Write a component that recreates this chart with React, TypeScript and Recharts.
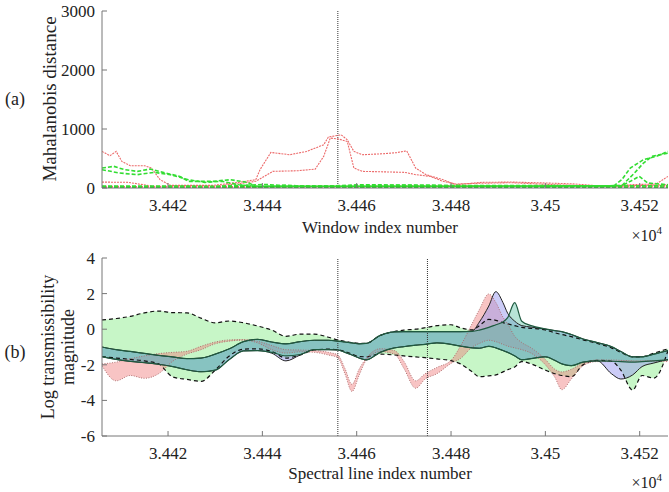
import React from 'react';
import { ComposedChart, Line, Area, XAxis, YAxis, ReferenceLine } from 'recharts';

// panel (a): Mahalanobis distance per window, [window index, distance]
const redA: [number, number][] = [[34406, 620], [34407.7, 547], [34409, 620], [34410.2, 451], [34412, 378], [34415, 378], [34416.5, 338], [34418.3, 141], [34420.5, 45], [34429.6, 45], [34435, 96], [34438.6, 141], [34439.5, 310], [34441.8, 603], [34445.8, 564], [34449.4, 620], [34453, 733], [34454, 863], [34456.7, 902], [34458, 818], [34459.4, 620], [34461.2, 564], [34465.7, 581], [34468.5, 600], [34470.6, 630], [34472.5, 338], [34474.7, 226], [34478.3, 141], [34481, 56], [34486.5, 96], [34492.8, 101], [34500, 85], [34506.3, 68], [34512.6, 28], [34518, 56], [34523.5, 68], [34526, 197]];
const redB: [number, number][] = [[34406, 100], [34411.5, 96], [34417, 28], [34429.6, 28], [34435, 73], [34438.6, 113], [34440.4, 197], [34442.2, 282], [34447.6, 293], [34451.2, 320], [34453, 536], [34454.4, 846], [34456.2, 829], [34458, 790], [34459.4, 338], [34461.2, 282], [34470.2, 265], [34472.5, 226], [34475.6, 197], [34478.3, 113], [34481, 68], [34486.5, 80], [34492.8, 90], [34501.8, 56], [34512.6, 28], [34526, 56]];
const redC: [number, number][] = [[34406, 30], [34420, 20], [34440, 25], [34460, 30], [34480, 40], [34500, 30], [34526, 40]];
const redD: [number, number][] = [[34406, 15], [34430, 10], [34460, 15], [34490, 20], [34526, 20]];
const greenA: [number, number][] = [[34406, 338], [34408.5, 367], [34410.8, 310], [34413.5, 282], [34416.2, 321], [34418.9, 265], [34422.5, 197], [34424.3, 113], [34429.6, 113], [34433.2, 141], [34436.8, 96], [34438.6, 28], [34460, 25], [34490, 25], [34514.4, 28], [34516.2, 141], [34518, 338], [34520.8, 480], [34523.5, 536], [34526, 620]];
const greenB: [number, number][] = [[34406, 310], [34409.7, 254], [34413.5, 226], [34417, 265], [34420.5, 226], [34424.3, 141], [34427.8, 96], [34431.4, 113], [34435, 56], [34438.6, 28], [34480, 30], [34516.2, 40], [34518.9, 254], [34520.8, 423], [34522.6, 536], [34526, 592]];
const greenC: [number, number][] = [[34406, 20], [34440, 20], [34445, 50], [34450, 20], [34456, 30], [34460, 55], [34470, 50], [34480, 40], [34500, 35], [34516, 30], [34518, 113], [34519.9, 197], [34521.7, 85], [34526, 56]];
const greenD: [number, number][] = [[34406, 8], [34440, 10], [34460, 12], [34490, 10], [34526, 8]];
const greenE: [number, number][] = [[34406, 35], [34430, 30], [34441, 60], [34445, 35], [34470, 45], [34500, 40], [34526, 35]];

// panel (b): log transmissibility bands (min / max) per spectral line
const bx = [34406, 34409, 34412, 34415, 34418, 34421, 34424, 34427, 34430, 34433, 34436, 34439, 34442, 34445, 34448, 34451, 34454, 34456, 34457.5, 34459, 34460.5, 34462, 34465, 34468, 34470, 34472.5, 34474.5, 34477, 34480, 34482, 34484.5, 34486, 34488, 34489.5, 34491, 34492, 34493.5, 34495, 34497, 34500, 34502, 34503.5, 34505.5, 34508, 34511, 34514, 34516, 34518.5, 34520.5, 34523, 34526];
const greenHi = [0.52, 0.6, 0.72, 0.92, 1.02, 0.93, 0.92, 0.62, 0.36, 0.46, 0.36, 0.18, -0.05, -0.4, -0.28, -0.28, -0.45, -0.61, -0.68, -0.75, -0.79, -0.79, -0.35, -0.13, -0.05, 0.0, 0.08, 0.2, 0.25, 0.08, -0.04, 0.2, 0.55, 0.5, 0.37, 0.3, 0.2, 0.1, 0.05, -0.04, -0.2, -0.3, -0.42, -0.6, -0.8, -1.05, -1.3, -1.55, -1.55, -1.35, -1.1];
const greenLo = [-1.54, -1.62, -1.7, -1.78, -1.95, -2.68, -2.82, -2.93, -2.3, -1.5, -1.12, -1.1, -1.25, -1.62, -1.45, -1.17, -1.12, -1.15, -1.25, -1.4, -1.54, -1.55, -1.4, -1.45, -1.5, -1.56, -1.6, -1.67, -1.77, -1.95, -2.4, -2.67, -2.62, -2.57, -2.4, -2.28, -2.12, -1.82, -1.95, -2.3, -2.5, -2.6, -2.67, -2.0, -1.75, -1.8, -2.3, -3.42, -2.6, -2.75, -1.2];
const blueHi = [-1.0, -1.15, -1.25, -1.36, -1.47, -1.56, -1.65, -1.62, -1.4, -1.1, -0.7, -0.57, -0.72, -0.82, -0.7, -0.62, -0.62, -0.67, -0.72, -0.77, -0.82, -0.8, -0.35, -0.15, -0.14, -0.14, -0.14, -0.14, -0.14, -0.14, -0.1, 0.4, 1.3, 2.11, 1.5, 0.9, 0.45, 0.2, 0.12, 0.0, -0.08, -0.14, -0.3, -0.55, -0.75, -0.98, -1.25, -1.55, -1.55, -1.4, -1.2];
const blueLo = [-1.54, -1.7, -1.81, -1.88, -1.97, -2.1, -2.28, -2.39, -2.3, -1.7, -1.22, -1.2, -1.35, -1.78, -1.45, -1.15, -1.15, -1.17, -1.3, -1.45, -1.62, -1.72, -1.3, -1.05, -0.98, -0.9, -0.85, -0.77, -0.85, -0.95, -1.05, -1.07, -0.96, -1.05, -1.2, -1.3, -1.5, -1.72, -1.65, -1.55, -1.75, -1.95, -2.05, -1.85, -1.78, -2.5, -2.8, -2.57, -2.1, -1.9, -1.7];
const tealHi = [-1.0, -1.15, -1.25, -1.36, -1.47, -1.56, -1.65, -1.62, -1.4, -1.1, -0.7, -0.57, -0.72, -0.82, -0.7, -0.62, -0.62, -0.67, -0.72, -0.77, -0.82, -0.8, -0.35, -0.15, -0.14, -0.14, -0.14, -0.14, -0.14, -0.14, -0.12, -0.05, 0.1, 0.25, 0.4, 0.65, 1.49, 0.45, 0.2, 0.02, -0.08, -0.14, -0.3, -0.55, -0.75, -0.98, -1.25, -1.55, -1.55, -1.4, -1.2];
const tealLo = [-1.54, -1.7, -1.81, -1.88, -1.97, -2.1, -2.28, -2.39, -2.3, -1.7, -1.22, -1.2, -1.3, -1.5, -1.42, -1.15, -1.15, -1.17, -1.3, -1.45, -1.62, -1.72, -1.3, -1.05, -0.98, -0.9, -0.85, -0.77, -0.85, -0.95, -1.05, -1.07, -0.96, -1.05, -1.2, -1.3, -1.5, -1.72, -1.65, -1.55, -1.75, -1.95, -2.05, -1.85, -1.78, -1.8, -1.82, -1.85, -1.82, -1.78, -1.72];
const redHi = [-1.95, -1.85, -1.66, -1.5, -1.37, -1.3, -1.24, -0.96, -0.72, -0.6, -0.58, -0.68, -0.92, -1.15, -1.17, -1.2, -1.3, -1.45, -2.2, -3.1, -2.25, -1.64, -1.1, -1.2, -1.8, -2.9, -2.5, -2.15, -1.75, -0.95, 0.33, 1.1, 1.98, 1.5, 0.68, 0.3, -0.4, -0.75, -1.05, -1.7, -2.25, -2.4, -2.25, -1.9, -1.73, -1.73, -1.75, -1.78, -1.8, -1.8, -1.82];
const redLo = [-2.05, -2.9, -2.6, -2.76, -2.5, -1.8, -1.4, -1.15, -0.82, -0.67, -0.62, -0.77, -1.15, -1.34, -1.27, -1.3, -1.45, -1.6, -2.5, -3.5, -2.6, -1.75, -1.26, -1.4, -2.2, -3.32, -2.8, -2.5, -1.92, -1.65, -1.0, -0.8, -0.62, -0.7, -0.85, -0.95, -1.05, -1.15, -1.35, -2.0, -2.7, -3.4, -2.8, -2.05, -1.82, -1.82, -1.8, -1.8, -1.78, -1.76, -1.73];

const xTicks = [34420, 34440, 34460, 34480, 34500, 34520];
const xTickLabels = ['3.442', '3.444', '3.446', '3.448', '3.45', '3.452'];
const topTicks = [0, 1000, 2000, 3000];
const bottomTicks = [-6, -4, -2, 0, 2, 4];
const markersTop = [34456];
const markersBottom = [34456, 34475];

const FONT = '"Liberation Serif", "DejaVu Serif", serif';
const AXIS = '#777';
const XDOM: [number, number] = [34406, 34526];
const tickStyle = { fill: '#222', fontSize: 17, fontFamily: FONT };
const fmtX = (v: number) => xTickLabels[xTicks.indexOf(v)] ?? '';

const toPts = (arr: [number, number][]) => arr.map(([x, y]) => ({ x, y }));

const bandRows = bx.map((x, i) => ({
  x,
  g: [greenLo[i], greenHi[i]],
  b: [blueLo[i], blueHi[i]],
  t: [tealLo[i], tealHi[i]],
  r: [redLo[i], redHi[i]],
  gHi: greenHi[i], gLo: greenLo[i],
  bHi: blueHi[i], bLo: blueLo[i],
  tHi: tealHi[i], tLo: tealLo[i],
  rHi: redHi[i], rLo: redLo[i],
}));

const topSeries = [
  { key: 'rA', data: redA, color: '#ec6a6a', dash: '2 1', w: 1.1 },
  { key: 'rB', data: redB, color: '#ec6a6a', dash: '2 1', w: 1.1 },
  { key: 'rC', data: redC, color: '#ec6a6a', dash: '2 1', w: 1.1 },
  { key: 'rD', data: redD, color: '#ec6a6a', dash: '2 1', w: 1.1 },
  { key: 'gA', data: greenA, color: '#33dd33', dash: '4 2', w: 1.6 },
  { key: 'gB', data: greenB, color: '#33dd33', dash: '4 2', w: 1.6 },
  { key: 'gC', data: greenC, color: '#33dd33', dash: '4 2', w: 1.6 },
  { key: 'gD', data: greenD, color: '#22cc22', dash: '4 2', w: 2.2 },
  { key: 'gE', data: greenE, color: '#33dd33', dash: '4 2', w: 1.6 },
];

const boxAxes = (domain: [number, number], ticks: number[]) => [
  <XAxis key="xt" xAxisId="top" orientation="top" type="number" domain={XDOM} allowDataOverflow ticks={xTicks} tick={false} height={0} tickSize={-5} stroke={AXIS} />,
  <YAxis key="yr" yAxisId="right" orientation="right" type="number" domain={domain} allowDataOverflow ticks={ticks} tick={false} width={0} tickSize={-5} stroke={AXIS} />,
];

const MahalanobisChart = () => (
  <ComposedChart width={669} height={245} margin={{ top: 11, right: 1, bottom: 27, left: 0 }}>
    <XAxis type="number" dataKey="x" domain={XDOM} allowDataOverflow ticks={xTicks} tickFormatter={fmtX}
      height={30} tickSize={-5} tickMargin={16} stroke={AXIS} tick={tickStyle} />
    <YAxis type="number" domain={[0, 3000]} allowDataOverflow ticks={topTicks} width={102}
      tickSize={-5} tickMargin={12} stroke={AXIS} tick={tickStyle} />
    {boxAxes([0, 3000], topTicks)}
    {markersTop.map((m) => (
      <ReferenceLine key={m} x={m} stroke="#333" strokeDasharray="1 1" />
    ))}
    {topSeries.map((s) => (
      <Line key={s.key} data={toPts(s.data)} dataKey="y" type="linear" stroke={s.color}
        strokeWidth={s.w} strokeDasharray={s.dash} dot={false} activeDot={false} isAnimationActive={false} />
    ))}
  </ComposedChart>
);

const TransmissibilityChart = () => (
  <ComposedChart width={669} height={247} data={bandRows} margin={{ top: 13, right: 1, bottom: 26, left: 0 }}>
    <XAxis type="number" dataKey="x" domain={XDOM} allowDataOverflow ticks={xTicks} tickFormatter={fmtX}
      height={30} tickSize={-5} tickMargin={16} stroke={AXIS} tick={tickStyle} />
    <YAxis type="number" domain={[-6, 4]} allowDataOverflow ticks={bottomTicks} width={102}
      tickSize={-5} tickMargin={12} stroke={AXIS} tick={tickStyle} />
    {boxAxes([-6, 4], bottomTicks)}
    <Area dataKey="g" type="monotone" stroke="none" fill="#90ee90" fillOpacity={0.5} isAnimationActive={false} />
    <Area dataKey="r" type="monotone" stroke="none" fill="#f07c7c" fillOpacity={0.45} isAnimationActive={false} />
    <Area dataKey="b" type="monotone" stroke="none" fill="#9a9af0" fillOpacity={0.5} isAnimationActive={false} />
    <Area dataKey="t" type="monotone" stroke="none" fill="#4cbc9c" fillOpacity={0.4} isAnimationActive={false} />
    {markersBottom.map((m) => (
      <ReferenceLine key={m} x={m} stroke="#333" strokeDasharray="1 1" />
    ))}
    <Line dataKey="gHi" type="monotone" stroke="#111" strokeWidth={1.2} strokeDasharray="4 3" dot={false} activeDot={false} isAnimationActive={false} />
    <Line dataKey="gLo" type="monotone" stroke="#111" strokeWidth={1.2} strokeDasharray="4 3" dot={false} activeDot={false} isAnimationActive={false} />
    <Line dataKey="rHi" type="monotone" stroke="#a86868" strokeWidth={0.9} strokeDasharray="1 1.5" dot={false} activeDot={false} isAnimationActive={false} />
    <Line dataKey="rLo" type="monotone" stroke="#a86868" strokeWidth={0.9} strokeDasharray="1 1.5" dot={false} activeDot={false} isAnimationActive={false} />
    <Line dataKey="bHi" type="monotone" stroke="#222" strokeWidth={1} dot={false} activeDot={false} isAnimationActive={false} />
    <Line dataKey="bLo" type="monotone" stroke="#222" strokeWidth={1} dot={false} activeDot={false} isAnimationActive={false} />
    <Line dataKey="tHi" type="monotone" stroke="#1f5a40" strokeWidth={1.2} dot={false} activeDot={false} isAnimationActive={false} />
    <Line dataKey="tLo" type="monotone" stroke="#1f5a40" strokeWidth={1.2} dot={false} activeDot={false} isAnimationActive={false} />
  </ComposedChart>
);

export default function App() {
  return (
    <div style={{ position: 'absolute', left: 0, top: 0, width: 669, height: 492, background: '#fff' }}>
      <div style={{ position: 'absolute', left: 0, top: 0 }}>
        <MahalanobisChart />
      </div>
      <div style={{ position: 'absolute', left: 0, top: 245 }}>
        <TransmissibilityChart />
      </div>
      <svg width={669} height={492} style={{ position: 'absolute', left: 0, top: 0, pointerEvents: 'none' }}
        fontFamily={FONT} fill="#222">
        <text x={15} y={105} fontSize={18} textAnchor="middle">(a)</text>
        <text transform="translate(56,99) rotate(-90)" fontSize={19} textAnchor="middle">Mahalanobis distance</text>
        <text x={380} y={233} fontSize={17} textAnchor="middle">Window index number</text>
        <text x={662} y={241} fontSize={16} textAnchor="end">×10<tspan dy={-7} fontSize={11}>4</tspan></text>
        <text x={15} y={358} fontSize={18} textAnchor="middle">(b)</text>
        <text transform="translate(54,347) rotate(-90)" fontSize={18} textAnchor="middle">Log transmissibility</text>
        <text transform="translate(74,347) rotate(-90)" fontSize={18} textAnchor="middle">magnitude</text>
        <text x={380} y={479} fontSize={17} textAnchor="middle">Spectral line index number</text>
        <text x={662} y={488} fontSize={16} textAnchor="end">×10<tspan dy={-7} fontSize={11}>4</tspan></text>
      </svg>
    </div>
  );
}
